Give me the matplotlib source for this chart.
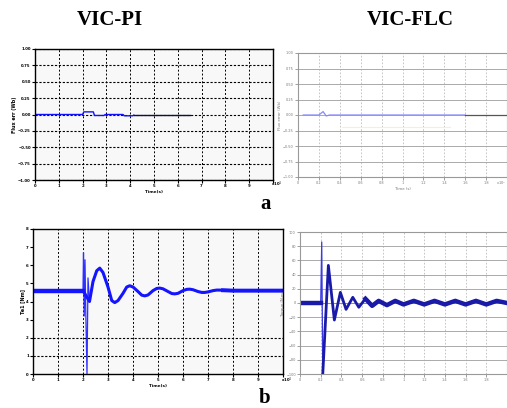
import numpy as np
import matplotlib
matplotlib.use('Agg')
from matplotlib import pyplot as plt

# ---- data ----
# (a) VIC-PI, flux error
pi_a_t = [0, 2.0, 2.05, 2.45, 2.5, 2.9, 2.95, 3.7, 3.75, 4.1, 4.15]
pi_a_v = [0, 0, 0.04, 0.04, -0.015, -0.015, 0, 0, -0.02, -0.02, -0.01]
pi_a_t2 = [4.15, 5.0, 6.5]
pi_a_v2 = [-0.01, -0.01, -0.01]

# (a) VIC-FLC
flc_a_t = [0.05, 0.2, 0.24, 0.27, 0.3, 0.4, 1.6]
flc_a_v = [0, 0, 0.055, -0.016, 0, 0, 0]
flc_a_t2 = [1.6, 2.0]
flc_a_v2 = [0, 0]
flc_a_ref_t = [0.42, 1.45]
flc_a_ref_v = [-0.19, -0.19]

# (b) VIC-PI, torque response
pi_b_spike_t = [2.0, 2.02, 2.05, 2.08, 2.11, 2.16, 2.2, 2.26]
pi_b_spike_v = [4.6, 6.7, 3.2, 6.3, 3.5, 0.0, 5.3, 4.0]
pi_b_t = [0, 2.0, 2.26, 2.4, 2.55, 2.67, 2.8, 3.0, 3.15, 3.27, 3.4, 3.6,
          3.75, 3.87, 4.0, 4.2, 4.35, 4.47, 4.6, 4.8, 4.95, 5.07, 5.2, 5.4,
          5.55, 5.67, 5.8, 6.0, 6.15, 6.27, 6.4, 6.6, 6.75, 6.87, 7.0, 7.2,
          7.35, 7.47, 7.6, 8.0, 10.0]
pi_b_v = [4.6, 4.6, 4.0, 5.1, 5.7, 5.84, 5.6, 4.8, 4.05, 3.94, 4.05, 4.45,
          4.8, 4.87, 4.8, 4.55, 4.35, 4.31, 4.36, 4.6, 4.72, 4.74, 4.7, 4.55,
          4.44, 4.42, 4.45, 4.6, 4.67, 4.68, 4.65, 4.55, 4.5, 4.5, 4.53, 4.6,
          4.63, 4.63, 4.62, 4.6, 4.6]

# (b) VIC-FLC
flc_b_t = [0, 0.2, 0.21, 0.22, 0.274, 0.332, 0.39, 0.445, 0.51, 0.568,
           0.632, 0.697, 0.76, 0.84, 0.92, 1.0, 1.1, 1.2, 1.3, 1.4, 1.5,
           1.6, 1.7, 1.8, 1.9, 2.0]
flc_b_v = [0, 0, 86, -100, 53, -24, 15, -9, 8, -6, 6, -4, 3, -3, 3, -2,
           3, -2, 3, -2, 3, -2, 3, -2, 3, 0]

fig = plt.figure(figsize=(5.07, 4.08), dpi=100)
W, H = 507.0, 408.0


def box(x0, y0, x1, y1):
    return [x0 / W, 1 - y1 / H, (x1 - x0) / W, (y1 - y0) / H]


def style_left(ax, xt, yt, ylab):
    ax.set_facecolor('#f8f8f8')
    for s in ax.spines.values():
        s.set_color('black')
        s.set_linewidth(1.0)
    ax.set_xticks(xt)
    ax.set_yticks(yt)
    ax.tick_params(length=2, width=0.8, labelsize=2.8, pad=1)
    for lab in ax.get_xticklabels() + ax.get_yticklabels():
        lab.set_fontweight('bold')
    ax.set_ylabel(ylab, fontsize=3.5, fontweight='bold', labelpad=1)


def style_right(ax, xt, yt, ylab, xlab):
    ax.set_facecolor('white')
    for s in ax.spines.values():
        s.set_color('#999999')
        s.set_linewidth(0.8)
    ax.set_xticks(xt)
    ax.set_yticks(yt)
    ax.tick_params(length=2, width=0.5, labelsize=2.5, pad=1, colors='#777777')
    ax.grid(True, axis='y', color='#aaaaaa', linewidth=0.7, linestyle='-')
    ax.grid(True, axis='x', color='#bbbbbb', linewidth=0.6, linestyle=(0, (2, 2)))
    ax.set_ylabel(ylab, fontsize=2.8, color='#777777', labelpad=1)
    ax.set_xlabel(xlab, fontsize=2.8, color='#777777', labelpad=1)


xlabs10 = [str(i) for i in range(10)] + ['']
xlabs2 = ['0', '0.2', '0.4', '0.6', '0.8', '1', '1.2', '1.4', '1.6', '1.8', '']

# --- top left ---
ax1 = fig.add_axes(box(35, 49, 273, 180))
ax1.plot(pi_a_t, pi_a_v, color='#1010ff', lw=1.0)
ax1.plot(pi_a_t2, pi_a_v2, color='#101040', lw=1.0)
ax1.set_xlim(0, 10)
ax1.set_ylim(-1, 1)
style_left(ax1, np.arange(0, 11, 1), np.arange(-1, 1.01, 0.25), 'Flux err (Wb)')
ax1.set_xticklabels(xlabs10, fontweight='bold')
ax1.grid(True, axis='x', color='black', linewidth=0.7, linestyle=(0, (2, 2)))
ax1.grid(True, axis='y', color='black', linewidth=0.8, linestyle=(0, (2, 1.5)))
ax1.set_xlabel('Time(s)', fontsize=3, fontweight='bold', labelpad=1)
fig.text(271 / W, 1 - 186 / H, r'x10$^4$', fontsize=2.8, fontweight='bold')

# --- top right ---
ax2 = fig.add_axes(box(298, 53, 507, 177))
ax2.plot(flc_a_ref_t, flc_a_ref_v, color='#f4f2c8', lw=0.8)
ax2.plot(flc_a_t, flc_a_v, color='#8888ff', lw=0.9)
ax2.plot(flc_a_t2, flc_a_v2, color='#555555', lw=0.9)
ax2.set_xlim(0, 2)
ax2.set_ylim(-1, 1)
style_right(ax2, np.arange(0, 2.01, 0.2), np.arange(-1, 1.01, 0.25),
            'Flux error (Wb)', 'Time (s)')
ax2.set_xticklabels(xlabs2)
fig.text(496 / W, 1 - 185 / H, r'x10$^4$', fontsize=2.5, color='#777777')

# --- bottom left ---
ax3 = fig.add_axes(box(33, 229, 283, 374))
ax3.plot(pi_b_spike_t, pi_b_spike_v, color='#3030ff', lw=0.9)
ax3.plot(pi_b_t, pi_b_v, color='#1414ff', lw=2.2)
ax3.plot(pi_b_t[:2], pi_b_v[:2], color='#1414ff', lw=3.2)
ax3.plot(pi_b_t[-3:], pi_b_v[-3:], color='#1414ff', lw=2.8)
ax3.set_xlim(0, 10)
ax3.set_ylim(0, 8)
style_left(ax3, np.arange(0, 11, 1), np.arange(0, 8.1, 1), 'Te1 [Nm]')
ax3.set_xticklabels(xlabs10, fontweight='bold')
ax3.grid(True, axis='x', color='black', linewidth=0.7, linestyle=(0, (2, 2)))
for yv in [1, 2]:
    ax3.axhline(yv, color='black', lw=0.8, linestyle=(0, (2, 1.5)))
ax3.set_xlabel('Time(s)', fontsize=3, fontweight='bold', labelpad=1)
fig.text(281 / W, 1 - 382 / H, r'x10$^4$', fontsize=2.8, fontweight='bold')

# --- bottom right ---
ax4 = fig.add_axes(box(300, 232, 507, 374))
ax4.axhline(0, color='#7a7aff', lw=0.6)
ax4.plot(flc_b_t[:4], flc_b_v[:4], color='#3a3ae0', lw=0.9)
ax4.plot(flc_b_t[3:], flc_b_v[3:], color='#1a1aa8', lw=2.0)
ax4.plot(flc_b_t[10:], flc_b_v[10:], color='#1a1aa8', lw=3.2)
ax4.plot(flc_b_t[:2], flc_b_v[:2], color='#1a1aa8', lw=3.2)
ax4.set_xlim(0, 2)
ax4.set_ylim(-100, 100)
style_right(ax4, np.arange(0, 2.01, 0.2), np.arange(-100, 101, 20),
            'Torque (N.m)', '')
ax4.set_xticklabels(xlabs2)

# titles and panel letters
fig.text(110 / W, 1 - 20 / H, 'VIC-PI', fontsize=15, fontweight='bold',
         family='Liberation Serif', ha='center', va='center')
fig.text(410 / W, 1 - 20 / H, 'VIC-FLC', fontsize=15, fontweight='bold',
         family='Liberation Serif', ha='center', va='center')
fig.text(266 / W, 1 - 204 / H, 'a', fontsize=15, fontweight='bold',
         family='Liberation Serif', ha='center', va='center')
fig.text(265 / W, 1 - 398 / H, 'b', fontsize=15, fontweight='bold',
         family='Liberation Serif', ha='center', va='center')

fig.savefig('out.png', dpi=100)
